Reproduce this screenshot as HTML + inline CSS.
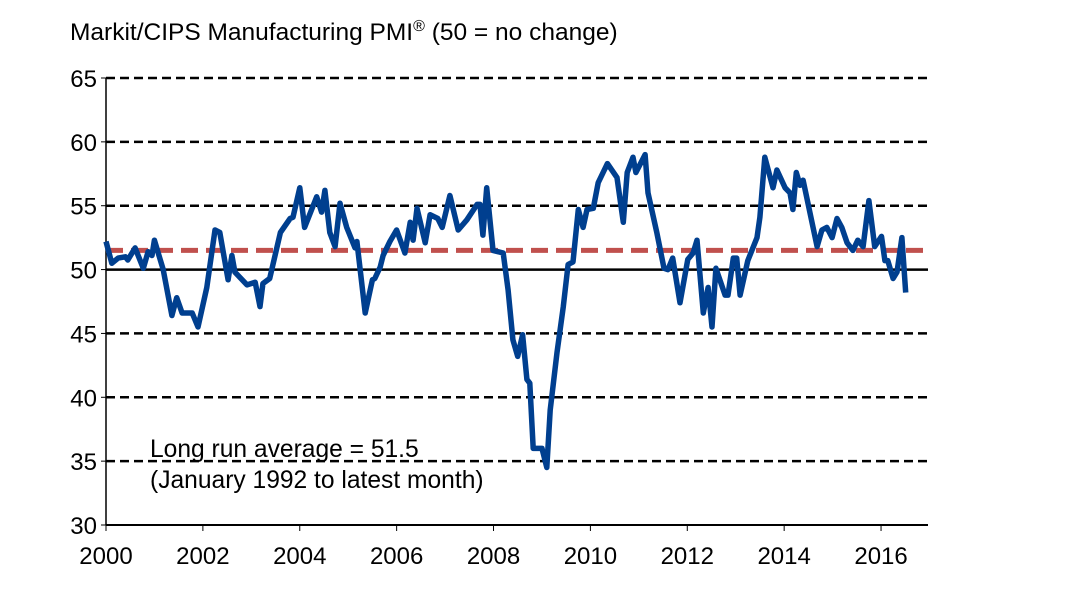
<!DOCTYPE html>
<html><head><meta charset="utf-8"><style>
body{margin:0;background:#fff;}
svg text{font-family:"Liberation Sans",Arial,sans-serif;fill:#000;}
</style></head><body>
<svg id="chart" width="1072" height="594">
<text x="70" y="40" font-size="24.5">Markit/CIPS Manufacturing PMI<tspan font-size="16" dy="-9">®</tspan><tspan dy="9"> (50 = no change)</tspan></text>
<g id="grid"></g><g id="axes"></g>
<text x="150" y="457" font-size="24.6">Long run average = 51.5</text>
<text x="150" y="488" font-size="24.6">(January 1992 to latest month)</text>
<g id="series"></g>
</svg>
<script>
const yTicks=[30,35,40,45,50,55,60,65];
const xTicks=[2000,2002,2004,2006,2008,2010,2012,2014,2016];
const average=51.5;
const years=[2000.0,2000.12,2000.25,2000.4,2000.45,2000.6,2000.77,2000.87,2000.95,2001.0,2001.18,2001.36,2001.46,2001.57,2001.78,2001.9,2002.08,2002.25,2002.35,2002.52,2002.6,2002.66,2002.91,2003.08,2003.18,2003.24,2003.38,2003.6,2003.8,2003.86,2004.0,2004.1,2004.35,2004.45,2004.52,2004.62,2004.73,2004.83,2004.97,2005.14,2005.18,2005.35,2005.5,2005.55,2005.66,2005.72,2005.86,2006.0,2006.17,2006.28,2006.34,2006.42,2006.59,2006.69,2006.85,2006.94,2007.1,2007.27,2007.45,2007.66,2007.72,2007.78,2007.86,2007.99,2008.2,2008.3,2008.4,2008.5,2008.6,2008.69,2008.75,2008.82,2009.0,2009.1,2009.17,2009.31,2009.44,2009.54,2009.64,2009.75,2009.85,2009.93,2010.06,2010.16,2010.35,2010.55,2010.68,2010.76,2010.88,2010.94,2011.13,2011.19,2011.37,2011.52,2011.6,2011.7,2011.85,2012.01,2012.12,2012.2,2012.33,2012.43,2012.51,2012.59,2012.78,2012.84,2012.95,2013.02,2013.09,2013.25,2013.44,2013.5,2013.6,2013.77,2013.85,2014.02,2014.12,2014.18,2014.25,2014.33,2014.39,2014.68,2014.78,2014.88,2014.99,2015.09,2015.19,2015.3,2015.42,2015.52,2015.63,2015.75,2015.87,2016.01,2016.08,2016.14,2016.25,2016.33,2016.43,2016.51];
const pmi=[52.2,50.5,50.9,51.0,50.75,51.7,50.1,51.4,51.1,52.3,50.0,46.4,47.8,46.6,46.6,45.5,48.6,53.1,52.9,49.2,51.1,49.8,48.8,49.0,47.1,48.9,49.3,52.9,54.0,54.1,56.4,53.3,55.7,54.5,56.2,52.9,51.8,55.2,53.3,51.7,52.2,46.6,49.2,49.3,50.2,51.1,52.2,53.1,51.3,53.7,52.3,54.8,52.1,54.3,54.0,53.3,55.8,53.1,53.9,55.1,55.1,52.7,56.4,51.5,51.3,48.4,44.5,43.2,44.9,41.4,41.1,36.0,36.0,34.5,39.0,43.5,47.1,50.4,50.6,54.7,53.3,54.7,54.8,56.8,58.3,57.2,53.7,57.6,58.8,57.6,59.0,56.0,52.9,50.1,50.0,50.9,47.4,50.8,51.3,52.3,46.6,48.6,45.5,50.1,48.0,48.0,50.9,50.9,48.0,50.7,52.5,54.1,58.8,56.4,57.8,56.4,56.0,54.7,57.6,56.6,57.0,51.8,53.1,53.3,52.5,54.0,53.3,52.1,51.5,52.3,51.8,55.4,51.8,52.6,50.7,50.7,49.3,49.8,52.5,48.2];
const X0=106,X1=928;
const xs=v=>106+(v-2000)*48.44;
const ys=v=>525-(v-30)*(447/35);
const NS='http://www.w3.org/2000/svg';
function mk(tag,attrs,parent,txt){const e=document.createElementNS(NS,tag);for(const k in attrs)e.setAttribute(k,attrs[k]);if(txt!==undefined)e.textContent=txt;document.getElementById(parent).appendChild(e);return e;}
yTicks.forEach(t=>{
  if(t!==30){
    const l=mk('line',{x1:X0,x2:X1,y1:ys(t),y2:ys(t),stroke:'#000','stroke-width':2.5,'stroke-dasharray':t===50?'none':'9,5'},'grid');
    
    
  }
  const tk=mk('line',{x1:X0-5,x2:X0,y1:ys(t),y2:ys(t),stroke:'#000','stroke-width':1},'axes');
  
  
  const lb=mk('text',{x:97,y:ys(t)+9,'font-size':24,'text-anchor':'end'},'axes',String(t));
  
  
});
const ya=mk('line',{x1:X0,x2:X0,y1:ys(65),y2:ys(30),stroke:'#000','stroke-width':1.5},'axes');


const xa=mk('line',{x1:X0,x2:X1,y1:ys(30),y2:ys(30),stroke:'#000','stroke-width':2},'axes');


xTicks.forEach(t=>{
  const tk=mk('line',{x1:xs(t),x2:xs(t),y1:ys(30),y2:ys(30)+6,stroke:'#000','stroke-width':1},'axes');
  
  
  const lb=mk('text',{x:xs(t),y:564,'font-size':24,'text-anchor':'middle'},'axes',String(t));
  
  
});
const avg=mk('line',{x1:X0,x2:X1,y1:ys(average),y2:ys(average),stroke:'#c0504d','stroke-width':5,'stroke-dasharray':'17,8'},'series');


const d=years.map((y,i)=>(i?'L':'M')+xs(y).toFixed(1)+','+ys(pmi[i]).toFixed(1)).join('');
const p=mk('path',{d:d,fill:'none',stroke:'#003f8f','stroke-width':5.5,'stroke-linejoin':'round'},'series');


</script>
</body></html>
